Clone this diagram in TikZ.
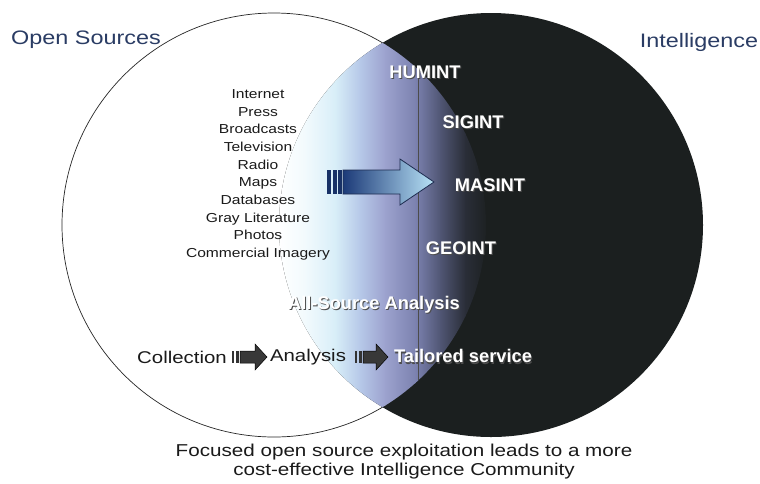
\documentclass[tikz,border=0pt]{standalone}
\usepackage{fontspec}
\setmainfont{Liberation Sans}
\newfontfamily\widesans[FakeStretch=1.2]{Liberation Sans}
\definecolor{navy}{HTML}{2A3C64}
\definecolor{darkfill}{HTML}{1B1F1F}
\definecolor{txt}{HTML}{1A1A1A}
\definecolor{lA}{HTML}{F2FAFD}
\definecolor{lB}{HTML}{D8EEF8}
\definecolor{lC}{HTML}{B6C8E8}
\definecolor{lD}{HTML}{9CA2CE}
\definecolor{lE}{HTML}{7C82B0}
\definecolor{lF}{HTML}{505674}
\definecolor{lG}{HTML}{2A2E38}
\definecolor{arrA}{HTML}{1C3A78}
\definecolor{arrB}{HTML}{3F88D0}
\definecolor{arrC}{HTML}{B8E2F6}
\definecolor{arrLine}{HTML}{1E2C50}
\newcommand\shadowed[1]{\rlap{\kern1pt\raisebox{-1.2pt}{\textcolor{black!70}{#1}}}#1}
\begin{document}
\begin{tikzpicture}[x=1pt,y=-1pt,
  titletext/.style={inner sep=0pt, text=navy, font=\widesans\fontsize{19.5}{22}\selectfont},
  listtext/.style={inner sep=0pt, text=txt, align=center, font=\widesans\fontsize{13}{17.67}\selectfont},
  flowtext/.style={inner sep=0pt, text=txt, font=\widesans\fontsize{17}{20}\selectfont},
  captext/.style={inner sep=0pt, text=txt, align=center, font=\widesans\fontsize{17.2}{19}\selectfont},
  intlabel/.style={inner sep=0pt, text=white, font=\bfseries\fontsize{18.3}{20}\selectfont},
  smallarrow/.style={draw=black, line width=0.5pt, fill=black!78},
  stripe/.style={fill=black!80},
  bigstripe/.style={fill=arrA!85!black},
]
\useasboundingbox (0,0) rectangle (760,483);
\fill[white] (0,0) rectangle (760,483);
\coordinate (cL) at (274,225);
\coordinate (cR) at (491,225);
% circles
\draw[line width=0.7pt, black!85] (cL) circle[radius=212pt];
\fill[darkfill] (cR) circle[radius=212pt];
\begin{scope}
  \clip (cL) circle[radius=212pt];
  \clip (cR) circle[radius=212pt];
  \shade[left color=white, right color=lA] (278,0) rectangle (305.5,483);
  \shade[left color=lA, right color=lB] (305,0) rectangle (335.5,483);
  \shade[left color=lB, right color=lC] (335,0) rectangle (360.5,483);
  \shade[left color=lC, right color=lD] (360,0) rectangle (385.5,483);
  \shade[left color=lD, right color=lE] (385,0) rectangle (415.5,483);
  \shade[left color=lE, right color=lF] (415,0) rectangle (440.5,483);
  \shade[left color=lF, right color=lG] (440,0) rectangle (465.5,483);
  \shade[left color=lG, right color=darkfill] (465,0) rectangle (490,483);
  \coordinate (seamTop) at (418,40);
  \coordinate (seamBot) at (418,420);
  \draw[black!70, line width=0.6pt] (seamTop) -- (seamBot);
\end{scope}
% titles
\node[titletext] (os) at (86,40) {Open Sources};
\node[titletext] (intel) at (699,42) {Intelligence};
% source list
\node[listtext] (src) at (258,175) {Internet\\Press\\Broadcasts\\Television\\Radio\\Maps\\Databases\\Gray Literature\\Photos\\Commercial Imagery};
% big arrow
\fill[bigstripe] (327,170) rectangle (331,194);
\fill[bigstripe] (332.5,170) rectangle (336.5,194);
\fill[bigstripe] (338,170) rectangle (341.5,194);
\draw[draw=arrLine, line width=0.8pt, left color=arrA, middle color=arrB, right color=arrC]
  (343,170) -- (400,170) -- (400,159) -- (434,182) -- (400,205) -- (400,194) -- (343,194) -- cycle;
% intelligence labels
\node[intlabel] (humint) at (425,73) {\shadowed{HUMINT}};
\node[intlabel] (sigint) at (473,123) {\shadowed{SIGINT}};
\node[intlabel] (masint) at (490,186) {\shadowed{MASINT}};
\node[intlabel] (geoint) at (461,249) {\shadowed{GEOINT}};
\node[intlabel] (allsrc) at (374,305) {\shadowed{All-Source Analysis}};
% flow row
\node[flowtext] (coll) at (182,357) {Collection};
\node[flowtext] (anal) at (308,357) {Analysis};
\node[intlabel] (tail) at (463,357) {\shadowed{Tailored service}};
% small arrow 1
\fill[stripe] (232,351) rectangle (234,363);
\fill[stripe] (235.5,351) rectangle (238.5,363);
\draw[smallarrow] (240,351) -- (255,351) -- (255,344) -- (267,357) -- (255,370) -- (255,363) -- (240,363) -- cycle;
% small arrow 2
\fill[stripe] (355,351) rectangle (357,363);
\fill[stripe] (358.5,351) rectangle (361.5,363);
\draw[smallarrow] (363,351) -- (376,351) -- (376,344) -- (388,357) -- (376,370) -- (376,363) -- (363,363) -- cycle;
% caption
\node[captext] (cap) at (404,461.5) {Focused open source exploitation leads to a more\\cost-effective Intelligence Community};
\end{tikzpicture}
\end{document}
